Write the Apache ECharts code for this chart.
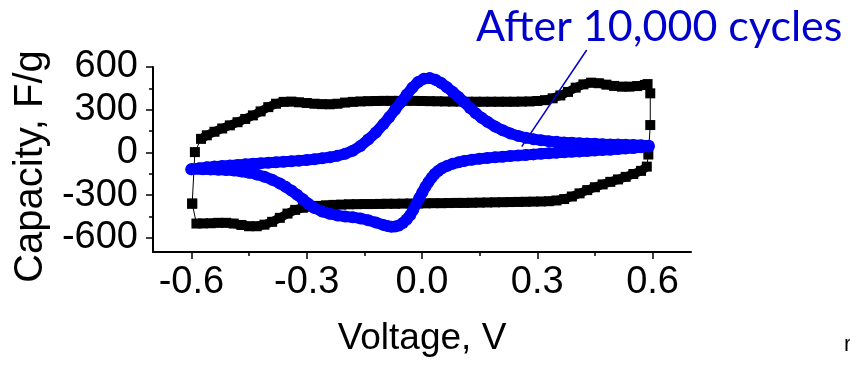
<!DOCTYPE html>
<html>
<head>
<meta charset="utf-8">
<script src="https://cdn.jsdelivr.net/npm/echarts@6/dist/echarts.min.js"></script>
<style>
html,body{margin:0;padding:0;background:#fff;}
#chart{width:850px;height:366px;}
</style>
</head>
<body>
<div id="chart"></div>
<script>
// Tick values
const xTickValues = [-0.6, -0.3, 0, 0.3, 0.6];
const xMinorValues = [-0.45, -0.15, 0.15, 0.45];
const yTickValues = [-600, -300, 0, 300, 600];
const yMinorValues = [-450, -150, 150, 450];

// Original electrode (black squares)
const blackLeftEdge = [[-0.598,-360],[-0.591,2]];
const blackAnodic = [[-0.575,95],[-0.56,120],[-0.54,145],[-0.52,168],[-0.50,190],[-0.48,212],[-0.46,235],[-0.44,260],[-0.42,288],[-0.40,318],[-0.38,342],[-0.36,355],[-0.34,357],[-0.32,352],[-0.30,347],[-0.28,342],[-0.26,339],[-0.24,338],[-0.22,342],[-0.20,350],[-0.18,355],[-0.16,358],[-0.14,360],[-0.12,361],[-0.10,362],[-0.08,362],[-0.06,362],[-0.04,362],[-0.02,362],[0.0,361],[0.02,360],[0.04,359],[0.06,358],[0.08,357],[0.10,357],[0.12,356],[0.14,356],[0.16,356],[0.18,356],[0.20,356],[0.22,356],[0.24,356],[0.26,357],[0.28,358],[0.30,361],[0.32,367],[0.34,380],[0.36,400],[0.38,425],[0.40,455],[0.42,478],[0.44,490],[0.46,486],[0.48,476],[0.50,467],[0.52,462],[0.54,462],[0.56,466],[0.58,474],[0.587,480]];
const blackRightEdge = [[0.594,415],[0.594,192],[0.589,-15]];
const blackCathodic = [[0.585,-100],[0.57,-130],[0.55,-152],[0.53,-172],[0.51,-190],[0.49,-207],[0.47,-225],[0.45,-245],[0.43,-265],[0.41,-288],[0.39,-310],[0.37,-328],[0.35,-338],[0.33,-343],[0.31,-345],[0.29,-346],[0.27,-347],[0.25,-348],[0.23,-349],[0.21,-350],[0.19,-351],[0.17,-352],[0.15,-353],[0.13,-354],[0.11,-355],[0.09,-355],[0.07,-356],[0.05,-357],[0.03,-357],[0.01,-358],[-0.01,-359],[-0.03,-359],[-0.05,-360],[-0.07,-361],[-0.09,-361],[-0.11,-362],[-0.13,-363],[-0.15,-363],[-0.17,-364],[-0.19,-365],[-0.21,-367],[-0.23,-369],[-0.25,-372],[-0.27,-376],[-0.29,-381],[-0.31,-389],[-0.33,-404],[-0.35,-430],[-0.37,-460],[-0.39,-488],[-0.41,-508],[-0.43,-519],[-0.45,-519],[-0.47,-510],[-0.49,-500],[-0.51,-495],[-0.53,-495],[-0.55,-498],[-0.57,-499],[-0.587,-500]];

// After 10,000 cycles (blue circles)
const blueAnodic = [[-0.60,-118],[-0.58,-111],[-0.56,-105],[-0.54,-100],[-0.52,-96],[-0.50,-92],[-0.48,-88],[-0.46,-84],[-0.44,-80],[-0.42,-76],[-0.40,-73],[-0.38,-70],[-0.36,-66],[-0.34,-62],[-0.32,-58],[-0.30,-54],[-0.28,-48],[-0.26,-41],[-0.24,-34],[-0.22,-24],[-0.20,-10],[-0.18,12],[-0.16,45],[-0.14,90],[-0.12,140],[-0.10,200],[-0.085,248],[-0.07,300],[-0.055,352],[-0.04,405],[-0.025,455],[-0.01,495],[0.005,518],[0.02,522],[0.035,510],[0.05,488],[0.065,458],[0.08,425],[0.095,390],[0.11,352],[0.125,312],[0.14,275],[0.155,243],[0.17,215],[0.19,182],[0.21,155],[0.23,133],[0.25,116],[0.27,103],[0.29,93],[0.31,85],[0.33,79],[0.35,74],[0.37,70],[0.39,67],[0.41,64],[0.43,62],[0.45,60],[0.47,58],[0.49,56],[0.51,55],[0.53,53],[0.55,52],[0.57,50],[0.59,46]];
const blueCathodic = [[0.59,42],[0.57,36],[0.55,31],[0.53,27],[0.51,23],[0.49,19],[0.47,16],[0.45,13],[0.43,10],[0.41,7],[0.39,4],[0.37,1],[0.35,-2],[0.33,-6],[0.31,-10],[0.29,-14],[0.27,-18],[0.25,-22],[0.23,-26],[0.21,-30],[0.19,-34],[0.17,-39],[0.15,-45],[0.13,-52],[0.11,-60],[0.095,-70],[0.08,-80],[0.065,-95],[0.052,-112],[0.042,-130],[0.033,-152],[0.025,-178],[0.017,-208],[0.009,-242],[0.001,-280],[-0.007,-320],[-0.015,-362],[-0.023,-405],[-0.031,-442],[-0.04,-472],[-0.05,-497],[-0.06,-513],[-0.07,-521],[-0.08,-522],[-0.09,-517],[-0.10,-510],[-0.12,-493],[-0.14,-477],[-0.16,-464],[-0.18,-456],[-0.20,-450],[-0.22,-443],[-0.24,-432],[-0.26,-416],[-0.28,-390],[-0.295,-362],[-0.31,-330],[-0.325,-298],[-0.34,-268],[-0.355,-242],[-0.37,-218],[-0.39,-192],[-0.41,-171],[-0.43,-155],[-0.45,-143],[-0.47,-134],[-0.49,-128],[-0.51,-124],[-0.53,-122],[-0.55,-120],[-0.57,-119],[-0.60,-118]];

const annotationText = 'After 10,000 cycles';

const blackLoop = blackLeftEdge.concat(blackAnodic, blackRightEdge, blackCathodic, [blackLeftEdge[0]]);
const blueLoop = blueAnodic.concat(blueCathodic);

const FONT = 'Liberation Sans, Arial, sans-serif';
const chart = echarts.init(document.getElementById('chart'), null, {renderer: 'canvas'});

function minorAxis(values, extra) {
  return Object.assign({
    type: 'value',
    axisLine: {show: false, onZero: false},
    axisLabel: {show: false},
    splitLine: {show: false},
    axisTick: {show: true, customValues: values, length: 4, lineStyle: {color: '#000', width: 1.5}}
  }, extra);
}

function bandSeries(data, color, width, z) {
  return {
    type: 'line', xAxisIndex: 0, yAxisIndex: 0, data: data,
    showSymbol: false, symbol: 'none', silent: true,
    lineStyle: {color: color, width: width, join: 'round', cap: 'butt'},
    z: z
  };
}

chart.setOption({
  animation: false,
  backgroundColor: '#fff',
  grid: {left: 153, right: 159, top: 67, bottom: 114, containLabel: false},
  xAxis: [{
    type: 'value', min: -0.7, max: 0.7, position: 'bottom',
    name: 'Voltage, V', nameLocation: 'middle', nameGap: 68,
    nameTextStyle: {fontSize: 37, color: '#000', fontFamily: FONT},
    axisLine: {show: true, onZero: false, lineStyle: {color: '#000', width: 2}},
    axisTick: {show: true, customValues: xTickValues, length: 7, lineStyle: {color: '#000', width: 1.5}},
    axisLabel: {customValues: xTickValues, formatter: v => v.toFixed(1), fontSize: 38, color: '#000', margin: 12, fontFamily: FONT},
    splitLine: {show: false}
  }, minorAxis(xMinorValues, {min: -0.7, max: 0.7, position: 'bottom'})],
  yAxis: [{
    type: 'value', min: -700, max: 600, position: 'left',
    name: 'Capacity, F/g', nameLocation: 'middle', nameGap: 96, nameRotate: 90,
    nameTextStyle: {fontSize: 40, color: '#000', fontFamily: FONT, padding: [0, 14, 0, 0]},
    axisLine: {show: true, onZero: false, lineStyle: {color: '#000', width: 2}},
    axisTick: {show: true, customValues: yTickValues, length: 7, lineStyle: {color: '#000', width: 1.5}},
    axisLabel: {customValues: yTickValues, fontSize: 38, color: '#000', margin: 15, fontFamily: FONT},
    splitLine: {show: false}
  }, minorAxis(yMinorValues, {min: -700, max: 600, position: 'left'})],
  series: [
    bandSeries(blackAnodic, '#000', 9, 1),
    bandSeries(blackCathodic, '#000', 9, 1),
    {
      name: 'Original', type: 'line', xAxisIndex: 0, yAxisIndex: 0,
      data: blackLoop, symbol: 'rect', symbolSize: 10,
      itemStyle: {color: '#000'}, lineStyle: {color: '#000', width: 1},
      z: 2
    },
    bandSeries(blueLoop, '#0000ff', 11, 3),
    {
      name: 'After 10,000 cycles', type: 'line', xAxisIndex: 0, yAxisIndex: 0,
      data: blueLoop, symbol: 'circle', symbolSize: 12,
      itemStyle: {color: '#0000ff'}, lineStyle: {color: '#0000ff', width: 1},
      z: 4
    }
  ],
  graphic: [{
    type: 'text', left: 476, top: 6,
    style: {text: annotationText, fontSize: 43, fontFamily: 'Lato, sans-serif', fill: '#0000cc'}
  }, {
    type: 'line', shape: {x1: 586.7, y1: 50, x2: 521.7, y2: 146.7},
    style: {stroke: '#0000cc', lineWidth: 1.5}, z: 10
  }, {
    type: 'text', left: 844, top: 334,
    style: {text: 'r', fontSize: 22, fontFamily: FONT, fill: '#000'}
  }]
});
</script>
</body>
</html>
